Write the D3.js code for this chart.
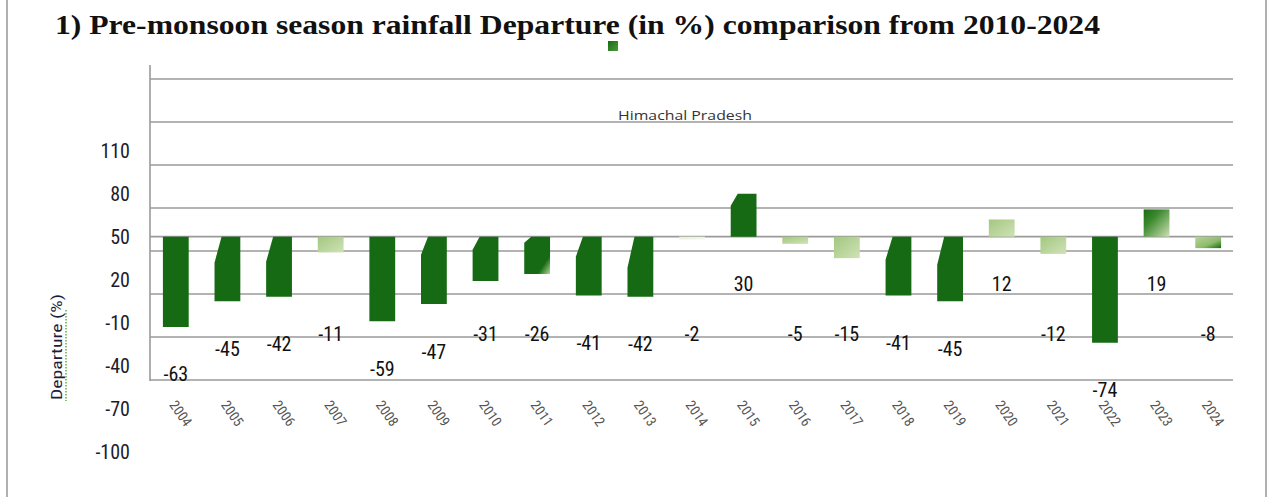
<!DOCTYPE html>
<meta charset="utf-8" />
<script src="https://d3js.org/d3.v7.min.js"></script>
<body style="margin:0;background:#fff">
<svg id="chart" width="1269" height="497" style="display:block"></svg>
<script>
/* DATA */
const years = ["2004","2005","2006","2007","2008","2009","2010","2011","2012","2013","2014",
               "2015","2016","2017","2018","2019","2020","2021","2022","2023","2024"];
const departure = [-63,-45,-42,-11,-59,-47,-31,-26,-41,-42,-2,30,-5,-15,-41,-45,12,-12,-74,19,-8];
const gridValues = [110,80,50,20,-10,-40,-70,-100];
const tickLabels = [110,80,50,20,-10,-40,-70,-100];
const title = "1)  Pre-monsoon season rainfall Departure (in %) comparison from 2010-2024";
const seriesName = "Himachal Pradesh";
const yTitle = "Departure (%)";

/* look of the bars (as in the picture) */
const darkGreen = "#176a14";
const shade = {"2007":"light","2014":"pale","2016":"light","2017":"light","2020":"light","2021":"light",
               "2023":"darkLight","2024":"lightDark","2011":"corner"};
const notch = {"2005":26,"2006":25,"2009":18,"2010":13,"2011":6,"2012":20,"2013":31,
               "2015":12,"2018":23,"2019":28};

const svg = d3.select("#chart");
const narrow = "'Liberation Sans Narrow','Roboto Condensed','Liberation Sans',sans-serif";

/* gradients */
const defs = svg.append("defs");
function grad(id, stops){
  const g = defs.append("linearGradient").attr("id",id)
    .attr("x1",0).attr("y1",0).attr("x2",1).attr("y2",1);
  stops.forEach(([o,c])=>g.append("stop").attr("offset",o).attr("stop-color",c));
}
grad("light",[[0,"#a3c77f"],[1,"#cfe2b7"]]);
grad("pale",[[0,"#e4efd8"],[1,"#f4f8ee"]]);
grad("darkLight",[[0,darkGreen],[0.35,"#3d8a2f"],[1,"#cde1b4"]]);
grad("lightDark",[[0,"#b8d49a"],[0.6,"#8dbb6a"],[1,darkGreen]]);
grad("corner",[[0,darkGreen],[0.75,darkGreen],[1,"#b9d59b"]]);
grad("legend",[[0,darkGreen],[1,"#4c9a3c"]]);

/* page borders */
svg.append("line").attr("x1",7).attr("x2",7).attr("y1",0).attr("y2",497)
  .attr("stroke","#b0b0b0").attr("stroke-width",2);
svg.append("line").attr("x1",1266).attr("x2",1266).attr("y1",0).attr("y2",497)
  .attr("stroke","#b0b0b0").attr("stroke-width",2);

/* title */
svg.append("text").attr("x",55).attr("y",34)
  .attr("font-family","'Liberation Serif','Times New Roman',serif")
  .attr("font-weight","bold").attr("font-size",27).attr("fill","#111")
  .attr("textLength",1045).attr("lengthAdjust","spacingAndGlyphs")
  .text(title);

/* legend marker */
svg.append("rect").attr("x",608).attr("y",41).attr("width",10).attr("height",10)
  .attr("fill","url(#legend)");

/* scales */
const x = d3.scaleBand().domain(years).range([150,1234]).paddingInner(0.5).paddingOuter(0.25);
const y = d3.scaleLinear().domain([-100,110]).range([380,79]);

/* gridlines + zero line */
svg.append("g").selectAll("line").data(gridValues.concat([0])).join("line")
  .attr("x1",150).attr("x2",1233)
  .attr("y1",d=>y(d)).attr("y2",d=>y(d))
  .attr("stroke","#9a9a9a").attr("stroke-width",1.6);
svg.append("line").attr("x1",150).attr("x2",150).attr("y1",65).attr("y2",381)
  .attr("stroke","#9a9a9a").attr("stroke-width",1.6);

/* y tick labels (sit 50 units below their gridline, as in the original) */
svg.append("g").selectAll("text").data(tickLabels).join("text")
  .attr("x",130).attr("y",d=>y(d-50)).attr("dy","0.36em")
  .attr("text-anchor","end").attr("font-family",narrow).attr("font-size",20)
  .attr("fill","#1c1c2c").text(d=>d);

/* y title */
svg.append("text")
  .attr("transform","translate(62,347) rotate(-90)")
  .attr("text-anchor","middle").attr("font-family",narrow).attr("font-size",15)
  .attr("fill","#1c1c3c").attr("textLength",106).attr("lengthAdjust","spacingAndGlyphs")
  .text(yTitle);
svg.append("line").attr("x1",66).attr("x2",66).attr("y1",310).attr("y2",401)
  .attr("stroke","#5fae45").attr("stroke-width",1.5).attr("stroke-dasharray","1.5,1.5");

/* series name */
svg.append("text").attr("x",685).attr("y",120).attr("text-anchor","middle")
  .attr("font-family","'Open Sans','Liberation Sans',sans-serif").attr("font-size",13)
  .attr("fill","#333").attr("textLength",134).attr("lengthAdjust","spacingAndGlyphs")
  .text(seriesName);

/* bars */
const data = years.map((yr,i)=>({yr, v:departure[i]}));
svg.append("g").selectAll("path").data(data).join("path")
  .attr("d",d=>{
    const x0 = x(d.yr), x1 = x0 + x.bandwidth();
    const top = Math.min(y(0), y(d.v)), bot = Math.max(y(0), y(d.v));
    const n = notch[d.yr] || 0;
    if(!n) return `M${x0},${top}H${x1}V${bot}H${x0}Z`;
    return `M${x0},${top+n}L${x0+7},${top}H${x1}V${bot}H${x0}Z`;
  })
  .attr("fill",d=>shade[d.yr] ? `url(#${shade[d.yr]})` : darkGreen);

/* data labels */
svg.append("g").selectAll("text").data(data).join("text")
  .attr("x",d=>x(d.yr)+x.bandwidth()/2)
  .attr("y",d=> d.v>=0 ? y(-33) : y(Math.min(d.v-33,-68)))
  .attr("dy","0.36em").attr("text-anchor","middle")
  .attr("font-family",narrow).attr("font-size",20).attr("fill","#111")
  .text(d=>d.v);

/* x labels */
svg.append("g").selectAll("text").data(years).join("text")
  .attr("transform",d=>`translate(${x(d)+x.bandwidth()/2-3},${402}) rotate(55)`)
  .attr("dy","0.35em").attr("font-family",narrow).attr("font-size",14)
  .attr("fill","#555").text(d=>d);
</script>
</body>
